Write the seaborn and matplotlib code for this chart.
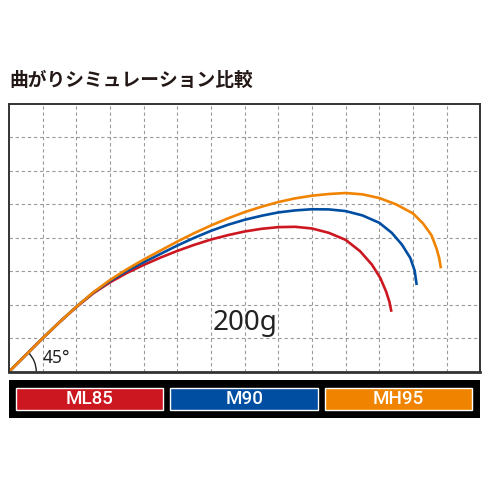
import matplotlib
matplotlib.use("Agg")
import matplotlib.pyplot as plt
from matplotlib.patches import Arc
import seaborn as sns
import pandas as pd

# bending curves (grid units)
ml85_x = [0, 0.5, 1, 1.5, 2, 2.5, 3, 3.5, 4, 4.5, 5, 5.5, 6, 6.5, 7, 7.5, 8, 8.5, 9, 9.5,
          10, 10.43, 10.78, 11.03, 11.2, 11.3, 11.36]
ml85_y = [0, 0.5, 1.0, 1.48, 1.93, 2.34, 2.67, 2.95, 3.19, 3.41, 3.61, 3.79, 3.95, 4.08, 4.19, 4.27, 4.32, 4.33, 4.28, 4.15,
          3.94, 3.60, 3.20, 2.80, 2.40, 2.09, 1.79]

m90_x = [0, 0.5, 1, 1.5, 2, 2.5, 3, 3.5, 4, 4.5, 5, 5.5, 6, 6.5, 7, 7.5, 8, 8.5, 9, 9.5,
         10, 10.5, 11, 11.37, 11.67, 11.92, 12.05, 12.11]
m90_y = [0, 0.5, 1.0, 1.48, 1.94, 2.36, 2.71, 3.01, 3.27, 3.52, 3.77, 4.00, 4.21, 4.39, 4.54, 4.66, 4.76, 4.82, 4.855, 4.85,
         4.80, 4.67, 4.45, 4.15, 3.80, 3.40, 3.02, 2.59]

mh95_x = [0, 0.5, 1, 1.5, 2, 2.5, 3, 3.5, 4, 4.5, 5, 5.5, 6, 6.5, 7, 7.5, 8, 8.5, 9, 9.5,
          10, 10.5, 11, 11.5, 12, 12.3, 12.55, 12.7, 12.78, 12.83]
mh95_y = [0, 0.5, 1.0, 1.48, 1.94, 2.37, 2.74, 3.06, 3.35, 3.62, 3.89, 4.14, 4.37, 4.58, 4.77, 4.93, 5.07, 5.18, 5.26, 5.31,
          5.34, 5.30, 5.19, 5.00, 4.73, 4.43, 4.08, 3.68, 3.39, 3.09]

models = ["ML85", "M90", "MH95"]
colors = ["#cc1720", "#004ea2", "#f08300"]

title = "曲がりシミュレーション比較"
load_label = "200g"
angle_label = "45°"

sns.set_style("white")
plt.rcParams['font.family'] = ['Noto Sans CJK JP', 'DejaVu Sans']

fig = plt.figure(figsize=(4.88, 4.88), dpi=100)
W = H = 488.0

# main plot area
ax = fig.add_axes([9 / W, (H - 371.7) / H, 471.3 / W, 267.7 / H])
frames = []
for name, xs, ys in [("ML85", ml85_x, ml85_y), ("M90", m90_x, m90_y), ("MH95", mh95_x, mh95_y)]:
    frames.append(pd.DataFrame({"x": xs, "y": ys, "model": name}))
df = pd.concat(frames, ignore_index=True)

for name, col in zip(models, colors):
    sns.lineplot(data=df[df.model == name], x="x", y="y", sort=False, estimator=None,
                 color=col, lw=1.9, ax=ax, solid_joinstyle="round", solid_capstyle="butt")

ax.set_xlim(0, 14)
ax.set_ylim(0, 8)
ax.set_xticks(range(1, 14))
ax.set_yticks(range(1, 8))
ax.grid(True, color="#9a9a9a", linestyle=(0, (3, 2.5)), linewidth=0.8)
ax.tick_params(length=0, labelbottom=False, labelleft=False)
ax.set_xlabel("")
ax.set_ylabel("")
for s in ax.spines.values():
    s.set_color("#333333")
    s.set_linewidth(1.4)
ax.spines["bottom"].set_linewidth(2.0)

ax.add_patch(Arc((0, 0), 1.62, 1.62, theta1=0, theta2=45, color="#222222", lw=1.0))
ax.text(1.0, 0.26, angle_label, fontsize=12.5, family=["Noto Sans", "DejaVu Sans"],
        color="#222222", va="baseline", ha="left")
ax.text(7.02, 1.45, load_label, fontsize=20, family=["Noto Sans", "DejaVu Sans"],
        color="#222222", va="center", ha="center")

fig.text(9 / W, 1 - 80 / H, title, fontsize=13.5, fontweight="bold", color="#231815",
         va="center", ha="left")

# legend bar
lax = fig.add_axes([9 / W, (H - 417.7) / H, 471 / W, 37.7 / H])
lax.set_facecolor("black")
leg = pd.DataFrame({"model": models, "v": [1, 1, 1]})
sns.barplot(data=leg, x="model", y="v", hue="model", palette=colors, width=0.954,
            legend=False, ax=lax, saturation=1)
lax.set_xlim(-0.523, 2.528)
lax.set_ylim(-0.342, 1.342)
for i, name in enumerate(models):
    lax.text(i, 0.5, name, color="white", fontsize=13.5, family=["Roboto", "DejaVu Sans"],
             fontweight="medium", ha="center", va="center")
lax.set_xticks([])
lax.set_yticks([])
lax.set_xlabel("")
lax.set_ylabel("")
for s in lax.spines.values():
    s.set_visible(False)

fig.savefig("out.png", dpi=100, facecolor="white")
